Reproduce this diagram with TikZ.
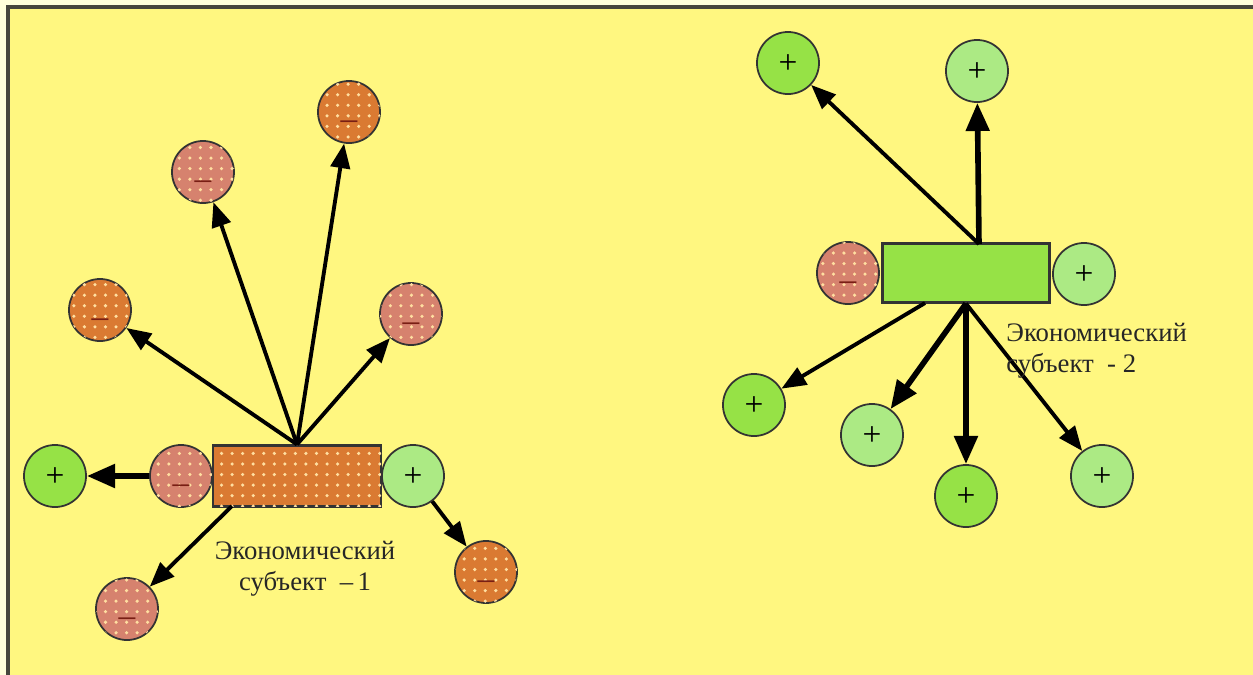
\documentclass[tikz,border=0pt]{standalone}
\usepackage{fontspec}
\setmainfont{Liberation Serif}
\usetikzlibrary{arrows.meta,patterns,calc}
\definecolor{paper}{RGB}{255,255,218}
\definecolor{field}{RGB}{255,247,128}
\definecolor{frameline}{RGB}{70,70,60}
\definecolor{brightgreen}{RGB}{150,226,70}
\definecolor{palegreen}{RGB}{172,234,132}
\definecolor{salmon}{RGB}{214,130,110}
\definecolor{rust}{RGB}{218,122,50}
\definecolor{dotlight}{RGB}{255,222,160}
\definecolor{minusink}{RGB}{120,30,20}
\tikzset{
  ball/.style={circle, draw=black!80, line width=0.5pt, inner sep=0pt,
               minimum size=0.62cm, font=\fontsize{9.5}{9.5}\selectfont},
  ballminus/.style={ball, text=minusink, postaction={pattern=dots, pattern color=dotlight}},
  gp/.style={ball, fill=brightgreen},
  lp/.style={ball, fill=palegreen},
  sm/.style={ballminus, fill=salmon},
  om/.style={ballminus, fill=rust},
  subj/.style={rectangle, draw=black!80, line width=0.6pt, inner sep=0pt},
  arr/.style={-{Triangle[length=7pt,width=5.5pt]}, line width=1.1pt, black},
  heavy/.style={-{Triangle[length=8pt,width=6.5pt]}, line width=1.6pt, black},
  lbl/.style={font=\fontsize{7.6}{8.8}\selectfont, text=black!85}
}
% signs are smashed so that their drop below the circle centre is set explicitly
\newcommand{\mns}{\smash{\raisebox{-5pt}{–}}}
\newcommand{\pls}{\smash{\raisebox{-3pt}{+}}}
\begin{document}
\begin{tikzpicture}[x=0.01cm, y=-0.01cm]
  \useasboundingbox (0,0) rectangle (1253,675);
  \clip (0,0) rectangle (1253,675);
  \fill[paper] (0,0) rectangle (1253,675);
  \fill[field] (8,7) rectangle (1270,690);
  \draw[frameline, line width=0.9pt] (8,690) -- (8,7) -- (1270,7);

  % ---- subject 1 ----
  \node[subj, fill=rust, minimum width=1.68cm, minimum height=0.61cm,
        postaction={pattern=dots, pattern color=dotlight}] (s1) at (297,476) {};
  \node[sm] (s1l) at (181,476) {\mns};
  \node[lp] (s1r) at (413,476) {\pls};
  \node[gp] (s1far) at (55,476) {\pls};
  \node[om] (s1a) at (100,310) {\mns};
  \node[sm] (s1b) at (203,172) {\mns};
  \node[om] (s1c) at (349,112) {\mns};
  \node[sm] (s1d) at (411,314) {\mns};
  \node[om] (s1e) at (486,572) {\mns};
  \node[sm] (s1f) at (127,609) {\mns};
  \coordinate (s1bot) at (232,506);

  \draw[arr] (s1.north) -- (s1a);
  \draw[arr] (s1.north) -- (s1b);
  \draw[arr] (s1.north) -- (s1c);
  \draw[arr] (s1.north) -- (s1d);
  \draw[heavy] (s1l.west) -- (s1far);
  \draw[arr] (s1r) -- (s1e);
  \draw[arr] (s1bot) -- (s1f);

  \node[lbl, align=center] (t1) at (305,569) {Экономический\\субъект\ \ –\,1};

  % ---- subject 2 ----
  \node[subj, fill=brightgreen, minimum width=1.67cm, minimum height=0.59cm] (s2) at (966,273) {};
  \node[sm] (s2l) at (848,273) {\mns};
  \node[lp] (s2r) at (1084,274) {\pls};
  \node[gp] (s2a) at (788,63) {\pls};
  \node[lp] (s2b) at (977,71) {\pls};
  \node[gp] (s2c) at (754,405) {\pls};
  \node[lp] (s2d) at (872,435) {\pls};
  \node[gp] (s2e) at (966,496) {\pls};
  \node[lp] (s2f) at (1102,476) {\pls};
  \coordinate (s2top) at (979,244);
  \coordinate (s2bl) at (925,303);

  \draw[arr] (s2top) -- (s2a);
  \draw[heavy] (s2top) -- (s2b);
  \draw[arr] (s2bl) -- (s2c);
  \draw[heavy] (s2.south) -- (s2d);
  \draw[heavy] (s2.south) -- (s2e);
  \draw[arr] (s2.south) -- (s2f);

  \node[lbl, align=left, anchor=north west] (t2) at (994,311) {Экономический\\субъект\ \ - 2};
\end{tikzpicture}
\end{document}
